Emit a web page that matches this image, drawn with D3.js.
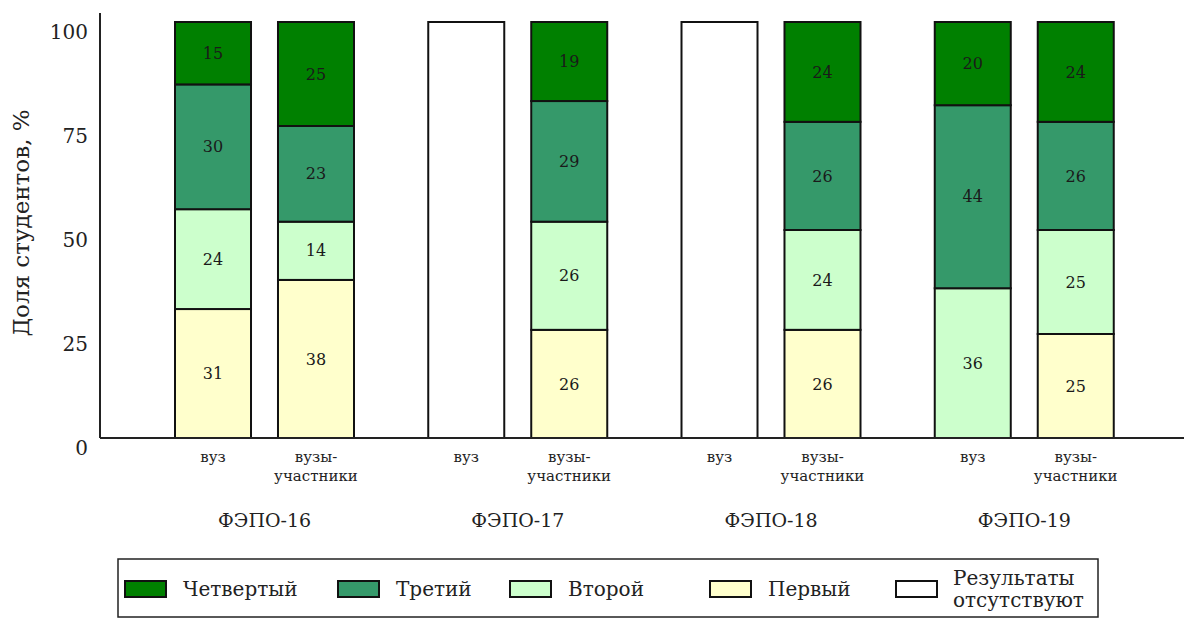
<!DOCTYPE html>
<html>
<head>
<meta charset="utf-8">
<script src="https://cdn.jsdelivr.net/npm/d3@7/dist/d3.min.js"></script>
<style>
  html, body { margin: 0; padding: 0; background: #fff; }
  svg { display: block; }
</style>
</head>
<body>
<svg id="chart" width="1184" height="619"></svg>
<script>
// Test rounds and institution kinds
const rounds = ["ФЭПО-16", "ФЭПО-17", "ФЭПО-18", "ФЭПО-19"];
const kinds = ["вуз", "вузы-участники"];
const kindLines = { "вуз": ["вуз"], "вузы-участники": ["вузы-", "участники"] };

// Achievement levels, stacked bottom-up: Первый, Второй, Третий, Четвертый
const levels = ["Первый", "Второй", "Третий", "Четвертый"];
const levelColors = ["#ffffcc", "#ccffcc", "#35996a", "#008000"];

// Shares of students, % (null = no results)
const level1 = [31, 38, null, 26, null, 26, 0, 25];
const level2 = [24, 14, null, 26, null, 24, 36, 25];
const level3 = [30, 23, null, 29, null, 26, 44, 26];
const level4 = [15, 25, null, 19, null, 24, 20, 24];

const yTicks = [0, 25, 50, 75, 100];

const legendLabels = ["Четвертый", "Третий", "Второй", "Первый", "Результаты|отсутствуют"];
const legendColors = ["#008000", "#35996a", "#ccffcc", "#ffffcc", "#ffffff"];
const legendX = [125, 338, 510, 710, 896];

const svg = d3.select("#chart");
const serif = "'DejaVu Serif', serif";

const y = d3.scaleLinear().domain([0, 100]).range([438, 22]);
const xGroup = d3.scaleBand().domain(rounds).range([138, 1151]).paddingInner(0).paddingOuter(0);
const xKind = d3.scaleBand().domain(kinds).range([37, 216]).paddingInner(0.262).paddingOuter(0);

// Build one record per bar
const bars = [];
rounds.forEach((r, gi) => {
  kinds.forEach((k, ki) => {
    const i = gi * kinds.length + ki;
    const vals = [level1[i], level2[i], level3[i], level4[i]];
    bars.push({ round: r, kind: k, missing: vals[0] === null, vals });
  });
});

const g = svg.append("g");

bars.forEach(b => {
  const x0 = xGroup(b.round) + xKind(b.kind);
  const w = xKind.bandwidth();
  const bg = g.append("g");
  if (b.missing) {
    bg.append("rect")
      .attr("x", x0).attr("y", y(100))
      .attr("width", w).attr("height", y(0) - y(100))
      .attr("fill", "#ffffff").attr("stroke", "#111").attr("stroke-width", 2);
    return;
  }
  let acc = 0;
  const segs = b.vals.map((v, li) => {
    const s = { v, lo: acc, hi: acc + v, color: levelColors[li] };
    acc += v;
    return s;
  }).filter(s => s.v > 0);
  bg.selectAll("rect").data(segs).join("rect")
    .attr("x", x0).attr("y", d => y(d.hi))
    .attr("width", w).attr("height", d => y(d.lo) - y(d.hi))
    .attr("fill", d => d.color)
    .attr("stroke", "#111").attr("stroke-width", 2);
  bg.selectAll("text").data(segs).join("text")
    .attr("x", x0 + w / 2)
    .attr("y", d => (y(d.lo) + y(d.hi)) / 2)
    .attr("dy", "0.35em")
    .attr("text-anchor", "middle")
    .attr("font-family", serif).attr("font-size", 16)
    .attr("fill", "#1a1a1a")
    .text(d => d.v);
});

// Y axis
const yAxis = d3.axisLeft(y).tickValues(yTicks).tickSize(0).tickPadding(12);
const ya = svg.append("g").attr("transform", "translate(100,0)").call(yAxis);
ya.select(".domain").remove();
ya.selectAll("text")
  .attr("font-family", serif).attr("font-size", 20)
  .attr("fill", "#222").attr("dy", "0.82em").attr("transform", "translate(0,0)");
svg.append("line")
  .attr("x1", 100).attr("x2", 100).attr("y1", 13).attr("y2", y(0))
  .attr("stroke", "#222").attr("stroke-width", 2);

// X baseline
svg.append("line")
  .attr("x1", 100).attr("x2", 1184).attr("y1", y(0)).attr("y2", y(0))
  .attr("stroke", "#222").attr("stroke-width", 2);

// Y title
svg.append("text")
  .attr("transform", "translate(29,223) rotate(-90)")
  .attr("text-anchor", "middle")
  .attr("font-family", serif).attr("font-size", 23)
  .attr("fill", "#222")
  .text("Доля студентов, %");

// Kind labels under bars and round labels below them
rounds.forEach(r => {
  kinds.forEach(k => {
    const cx = xGroup(r) + xKind(k) + xKind.bandwidth() / 2;
    const t = svg.append("text")
      .attr("text-anchor", "middle")
      .attr("font-family", serif).attr("font-size", 15)
      .attr("fill", "#222");
    kindLines[k].forEach((line, li) => {
      t.append("tspan").attr("x", cx).attr("y", 462 + li * 19).text(line);
    });
  });
  svg.append("text")
    .attr("x", xGroup(r) + xGroup.bandwidth() / 2)
    .attr("y", 527)
    .attr("text-anchor", "middle")
    .attr("font-family", serif).attr("font-size", 19)
    .attr("fill", "#222")
    .text(r);
});

// Legend
const lg = svg.append("g");
lg.append("rect")
  .attr("x", 118).attr("y", 559).attr("width", 980).attr("height", 58)
  .attr("fill", "#fff").attr("stroke", "#222").attr("stroke-width", 1.5);
legendLabels.forEach((lab, i) => {
  const sx = legendX[i];
  lg.append("rect")
    .attr("x", sx).attr("y", 581).attr("width", 41).attr("height", 16)
    .attr("fill", legendColors[i]).attr("stroke", "#111").attr("stroke-width", 2);
  const parts = lab.split("|");
  const t = lg.append("text")
    .attr("font-family", serif).attr("font-size", 20)
    .attr("fill", "#222");
  if (parts.length === 1) {
    t.append("tspan").attr("x", sx + 58).attr("y", 589).attr("dy", "0.35em").text(parts[0]);
  } else {
    parts.forEach((p, pi) => {
      t.append("tspan").attr("x", sx + 57).attr("y", 578 + pi * 22).attr("dy", "0.35em").text(p);
    });
  }
});
</script>
</body>
</html>
